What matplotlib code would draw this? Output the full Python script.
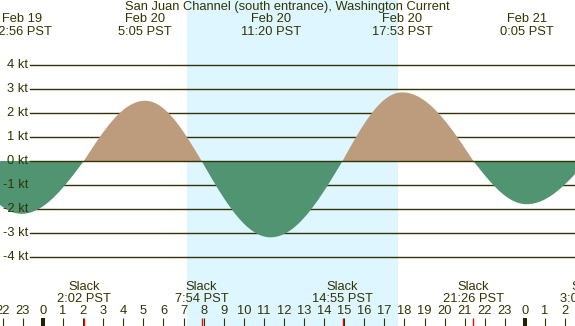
import matplotlib
matplotlib.use('Agg')
import matplotlib.pyplot as plt
import numpy as np

# ---- data (hours relative to Feb 20 00:00 PST) ----
title = "San Juan Channel (south entrance), Washington Current"
event_hours = [-3.93, -1.067, 2.033, 5.083, 7.9, 11.333, 14.917, 17.883, 21.433, 24.083, 27.08]
event_speeds = [0.0, -2.20, 0.0, 2.51, 0.0, -3.18, 0.0, 2.86, 0.0, -1.80, 0.0]

max_hours = [-1.067, 5.083, 11.333, 17.883, 24.083]
max_dates = ["Feb 19", "Feb 20", "Feb 20", "Feb 20", "Feb 21"]
max_times = ["22:56 PST", "5:05 PST", "11:20 PST", "17:53 PST", "0:05 PST"]

slack_hours = [2.033, 7.9, 14.917, 21.433, 27.08]
slack_times = ["2:02 PST", "7:54 PST", "14:55 PST", "21:26 PST", "3:05 PST"]

sunrise = 7.17
sunset = 17.68

kt_levels = [4, 3, 2, 1, 0, -1, -2, -3, -4]
hour_ticks = list(range(-2, 27))

# ---- style ----
W, H = 575, 326
night = "#b0c4de"
day = "#ddf6ff"
flood = "#bc9c7c"
ebb = "#509472"
ink = "#333300"
fam = "Liberation Sans"
fs = 9.25

fig = plt.figure(figsize=(W / 100, H / 100), dpi=100)
ax = fig.add_axes([0, 0, 1, 1])
ax.set_facecolor(night)
px_per_h = 20.08
x0 = 43
ax.set_xlim(-x0 / px_per_h, (W - x0) / px_per_h)
zero_y = 161
px_per_kt = 24
ax.set_ylim(-(H - zero_y) / px_per_kt, zero_y / px_per_kt)
ax.axis('off')

ax.axvspan(sunrise, sunset, color=day, zorder=0, lw=0)

# grid lines
for k in kt_levels:
    ax.axhline(k, xmin=30 / W, xmax=1, color=ink, lw=1.0, zorder=3 if k == 0 else 1)
    lab = f"{k} kt"
    ax.text(28 / W, 1 - (zero_y - k * px_per_kt) / H, lab, transform=ax.transAxes,
            ha='right', va='center', fontsize=fs, color=ink, family=fam)

# curve between events (quarter sine wave between slack and maximum)
t = np.linspace(event_hours[0], event_hours[-1], 3000)
v = np.zeros_like(t)
for i in range(len(event_hours) - 1):
    a, b = event_hours[i], event_hours[i + 1]
    va, vb = event_speeds[i], event_speeds[i + 1]
    m = (t >= a) & (t <= b)
    f = (t[m] - a) / (b - a)
    if va == 0:
        v[m] = vb * np.sin(np.pi / 2 * f)
    else:
        v[m] = va * np.cos(np.pi / 2 * f)
ax.fill_between(t, 0, v, where=v >= 0, color=flood, lw=0, zorder=2, interpolate=True)
ax.fill_between(t, 0, v, where=v <= 0, color=ebb, lw=0, zorder=2, interpolate=True)

xt = ax.get_xaxis_transform()
# title and maxima labels
ax.text(0.5 * (124 + 450) / W, 1 - 7 / H, title, transform=ax.transAxes, ha='center', va='center',
        fontsize=fs, color=ink, family=fam)
for h, d, s in zip(max_hours, max_dates, max_times):
    ax.text(h, 1 - 19 / H, d, transform=xt, ha='center', va='center', fontsize=fs, color=ink, family=fam)
    ax.text(h, 1 - 32 / H, s, transform=xt, ha='center', va='center', fontsize=fs, color=ink, family=fam)

# slack labels
for h, s in zip(slack_hours, slack_times):
    ax.text(h, 1 - 287 / H, "Slack", transform=xt, ha='center', va='center', fontsize=fs, color=ink, family=fam)
    ax.text(h, 1 - 299 / H, s, transform=xt, ha='center', va='center', fontsize=fs, color=ink, family=fam)
    ax.vlines(h, 0, 1 - 318 / H, transform=xt, color='red', lw=1.0, zorder=4)

# hour ticks and labels
for h in hour_ticks:
    ax.text(h, 1 - 311 / H, str(h % 24), transform=xt, ha='center', va='center', fontsize=fs, color=ink, family=fam)
    lw = 2.9 if h % 24 == 0 else 0.8
    ax.vlines(h, 0, 1 - 318 / H, transform=xt, color=ink if h % 24 else "#222200", lw=lw, zorder=4)

fig.savefig("out.png", dpi=100)
